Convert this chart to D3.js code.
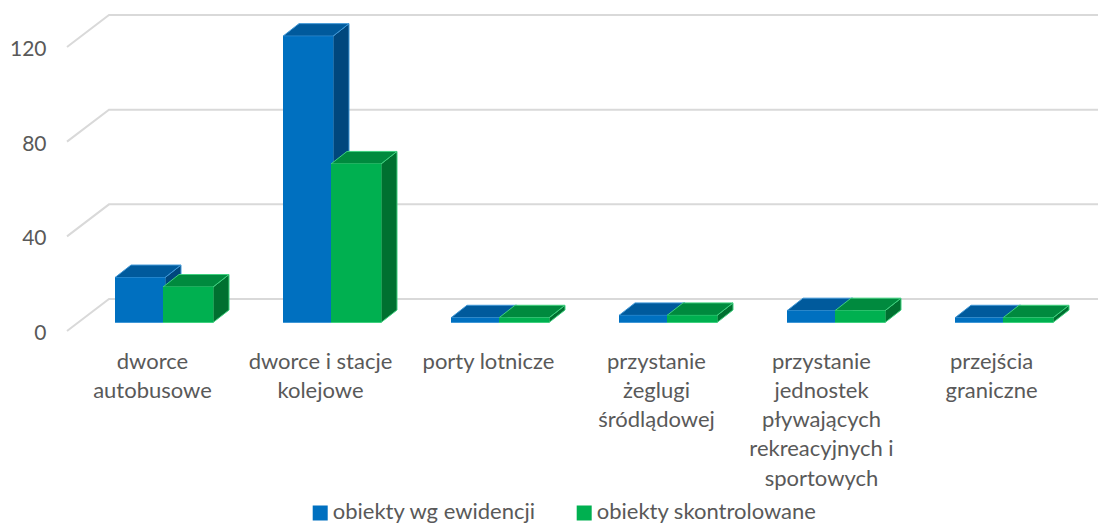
<!DOCTYPE html>
<html><head><meta charset="utf-8">
<script src="https://cdn.jsdelivr.net/npm/d3@7/dist/d3.min.js"></script>
<style>html,body{margin:0;background:#fff}svg{display:block}text{font-family:Lato,sans-serif;fill:#595959}</style>
</head><body><svg width="1104" height="524"></svg>
<script>
const categories=[["dworce","autobusowe"],["dworce i stacje","kolejowe"],["porty lotnicze"],["przystanie","żeglugi","śródlądowej"],["przystanie","jednostek","pływających","rekreacyjnych i","sportowych"],["przejścia","graniczne"]];
const seriesNames=["obiekty wg ewidencji","obiekty skontrolowane"];
const evidence=[19,121,2,3,5,2];
const checked=[15,67,2,3,5,2];
const yTicks=[0,40,80,120];
const palette=[{front:"#0070c0",top:"#005a9c",side:"#00477d",edge:"#3f97d6"},{front:"#00b050",top:"#008a3e",side:"#007030",edge:"#3fd07f"}];
const svg=d3.select("svg");
const y=d3.scaleLinear().domain([0,120]).range([331,47]);
const x=d3.scaleBand().domain(d3.range(6)).range([81,1089]);
const depth={dx:42,dy:-32};
const barDepth={dx:16,dy:-12.5};
const floorFront=-8.5;
const grid=svg.append("g");
yTicks.forEach(t=>{
  const yf=y(t);
  grid.append("path").attr("d",d3.line()([[67,yf],[67+depth.dx,yf+depth.dy],[1098,yf+depth.dy]]))
    .attr("fill","none").attr("stroke","#d9d9d9").attr("stroke-width",2);
  svg.append("text").attr("x",46.5).attr("y",yf+0.5).attr("text-anchor","end").attr("dominant-baseline","central").attr("font-size",21).text(t);
});
const barW=50, barStep=48;
const bars=svg.append("g");
function bar(i,s,v){
  const c=palette[s];
  const x0=x(i)+x.bandwidth()/2-barW+s*barStep;
  const x1=x0+barW;
  const yb=y(0)+floorFront;
  const h=y(0)-y(v);
  const yt=yb-h;
  const {dx,dy}=barDepth;
  const g=bars.append("g").attr("stroke",c.edge).attr("stroke-width",1).attr("stroke-linejoin","round");
  g.append("path").attr("d",d3.line()([[x1,yt],[x1+dx,yt+dy],[x1+dx,yb+dy],[x1,yb]])+"Z").attr("fill",c.side);
  g.append("path").attr("d",d3.line()([[x0,yt],[x0+dx,yt+dy],[x1+dx,yt+dy],[x1,yt]])+"Z").attr("fill",c.top);
  g.append("rect").attr("x",x0).attr("y",yt).attr("width",barW).attr("height",h).attr("fill",c.front).attr("stroke","none");
  g.append("path").attr("d",d3.line()([[x0,yb],[x1,yb]])).attr("fill","none");
}
categories.forEach((c,i)=>{bar(i,0,evidence[i]);bar(i,1,checked[i]);});
categories.forEach((lines,i)=>{
  const shift=i===4?-15.5:i===5?-13.5:-12.5;
  const t=svg.append("text").attr("text-anchor","middle").attr("font-size",22);
  lines.forEach((l,j)=>t.append("tspan").attr("x",x(i)+x.bandwidth()/2+shift).attr("y",368.5+j*29.3).text(l));
});
const legendX=[312.7,576.7];
seriesNames.forEach((n,i)=>{
  svg.append("rect").attr("x",legendX[i]).attr("y",505.5).attr("width",15).attr("height",15).attr("fill",palette[i].front);
  svg.append("text").attr("x",legendX[i]+20).attr("y",518.7).attr("font-size",22).text(n);
});
</script></body></html>
